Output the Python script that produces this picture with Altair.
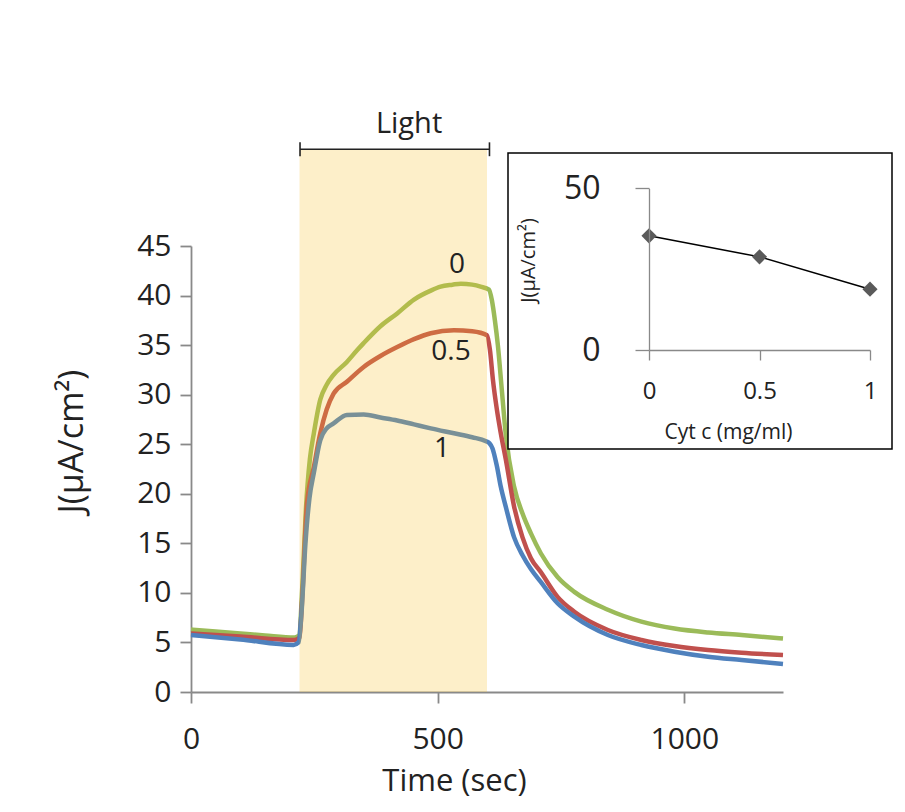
import altair as alt
import pandas as pd

# ---- main curves: time (sec) vs J (uA/cm2), one series per Cyt c concentration ----
t_0 = [0, 50, 100, 150, 210, 219, 226, 233, 241, 249, 262, 275, 289, 316, 337, 350, 384,
       418, 452, 486, 506, 530, 547, 570, 587, 604, 610, 616, 622, 630, 638, 655, 672, 689,
       709, 743, 777, 845, 913, 980, 1048, 1116, 1200]
j_0 = [6.3, 6.1, 5.9, 5.7, 5.5, 5.7, 11.0, 18.5, 23.5, 26.1, 29.5, 31.0, 32.0, 33.3, 34.5,
       35.2, 36.9, 38.2, 39.6, 40.5, 40.9, 41.1, 41.2, 41.1, 40.9, 40.6, 39.5, 37.5, 35.0,
       30.5, 26.0, 20.7, 18.0, 16.0, 14.0, 11.6, 10.1, 8.3, 7.1, 6.4, 6.0, 5.75, 5.4]

t_05 = [0, 100, 210, 220, 226, 235, 249, 262, 275, 289, 316, 350, 384, 418, 452, 486, 533,
        570, 600, 606, 612, 620, 628, 638, 655, 672, 689, 709, 743, 777, 845, 913, 980,
        1048, 1116, 1200]
j_05 = [5.9, 5.6, 5.25, 5.5, 10.0, 19.0, 22.7, 26.1, 28.5, 30.1, 31.3, 32.8, 33.9, 34.8,
        35.6, 36.2, 36.5, 36.4, 36.0, 34.5, 31.5, 28.5, 26.1, 23.5, 18.7, 15.6, 13.5, 12.1,
        9.6, 8.1, 6.26, 5.25, 4.64, 4.24, 3.97, 3.73]

t_1 = [0, 100, 208, 218, 224, 232, 240, 249, 262, 275, 289, 316, 350, 384, 418, 452, 486,
       533, 570, 598, 605, 611, 620, 628, 638, 655, 672, 689, 709, 743, 777, 845, 913, 980,
       1048, 1116, 1200]
j_1 = [5.75, 5.3, 4.75, 5.0, 8.0, 15.0, 19.5, 22.1, 25.4, 26.6, 27.1, 27.95, 28.0, 27.7,
       27.4, 27.0, 26.6, 26.1, 25.7, 25.3, 25.1, 24.6, 22.8, 20.7, 18.7, 15.6, 13.8, 12.4,
       11.1, 8.95, 7.6, 5.75, 4.74, 4.07, 3.56, 3.23, 2.83]

series_names = ["0", "0.5", "1"]
series_colors = ["#9BBB59", "#C0504D", "#4F81BD"]

# curve labels
label_text = ["0", "0.5", "1"]
label_t = [539, 527, 509]
label_j = [43.1, 34.3, 24.5]

# light period
light_start, light_end = 220, 600
light_bar = [221, 605]

# inset: peak J vs Cyt c
cyt = [0, 0.5, 1]
j_peak = [35.3, 28.8, 18.8]

FONT = "Open Sans"
TXT = "#222222"
AX = "#898989"

rows = []
for name, ts, js in [("0", t_0, j_0), ("0.5", t_05, j_05), ("1", t_1, j_1)]:
    for t, j in zip(ts, js):
        rows.append({"s": name, "t": t, "j": j})
df = pd.DataFrame(rows)
lab_df = pd.DataFrame({"label": label_text, "t": label_t, "j": label_j})
cap_df = pd.DataFrame({"t": light_bar})
one = pd.DataFrame({"a": [0]})
inset_df = pd.DataFrame({"c": cyt, "jc": j_peak})

x_main = alt.X(
    "t:Q",
    scale=alt.Scale(domain=[0, 1200], nice=False, zero=False),
    axis=alt.Axis(
        values=[0, 500, 1000], labelExpr="datum.value", title="Time (sec)",
        grid=False, tickSize=11, tickWidth=1.8, tickColor=AX,
        domainColor=AX, domainWidth=1.8,
        labelFont=FONT, labelFontSize=30, labelColor=TXT,
        labelBaseline="alphabetic", labelPadding=45, labelFlush=False,
        titleFont=FONT, titleFontSize=31, titleFontWeight="normal", titleColor=TXT,
        titleX=263, titleY=98, titleBaseline="alphabetic", titleAlign="center",
    ),
)
y_main = alt.Y(
    "j:Q",
    scale=alt.Scale(domain=[0, 45], nice=False),
    axis=alt.Axis(
        values=list(range(0, 50, 5)), labelExpr="datum.value", title="J(μA/cm²)",
        grid=False, tickSize=11, tickWidth=1.8, tickColor=AX,
        domainColor=AX, domainWidth=1.8,
        labelFont=FONT, labelFontSize=30, labelColor=TXT, labelPadding=9,
        titleFont=FONT, titleFontSize=34, titleFontWeight="normal", titleColor=TXT,
        titleAngle=270, titleX=-119, titleY=195, titleAlign="center",
        titleBaseline="middle",
    ),
)

lines = alt.Chart(df).mark_line(strokeWidth=4.5, interpolate="monotone").encode(
    x=x_main,
    y=y_main,
    color=alt.Color("s:N", scale=alt.Scale(domain=series_names, range=series_colors), legend=None),
)

shade = alt.Chart(one).mark_rect(color="#F7BF27", opacity=0.25).encode(
    x=alt.datum(light_start), x2=alt.datum(light_end),
    y=alt.datum(0), y2=alt.datum(54.7),
)

labels = alt.Chart(lab_df).mark_text(font=FONT, fontSize=28, color=TXT).encode(
    x="t:Q", y="j:Q", text="label:N"
)

caps = alt.Chart(cap_df).mark_rule(color="#222222", strokeWidth=1.6).encode(
    x="t:Q", y=alt.datum(54.06), y2=alt.datum(55.46)
)
bar = alt.Chart(one).mark_rule(color="#222222", strokeWidth=1.6).encode(
    x=alt.datum(light_bar[0]), x2=alt.datum(light_bar[1]), y=alt.datum(54.76)
)
light_text = alt.Chart(one).mark_text(
    text="Light", font=FONT, fontSize=29, color=TXT, baseline="alphabetic"
).encode(x=alt.datum(442), y=alt.datum(56.4))

main = alt.layer(lines, shade, labels, caps, bar, light_text)

# ---- inset ----
x_in = alt.X(
    "c:Q",
    scale=alt.Scale(domain=[0, 1], range=[458, 679], nice=False, zero=False),
    axis=alt.Axis(
        orient="bottom", offset=-342, values=cyt, labelExpr="datum.value", zindex=2,
        title="Cyt c (mg/ml)", grid=False, tickSize=10, tickWidth=1.3, tickColor=AX,
        domainColor=AX, domainWidth=1.3,
        labelFont=FONT, labelFontSize=24, labelColor=TXT,
        labelBaseline="alphabetic", labelPadding=38, labelFlush=False,
        titleFont=FONT, titleFontSize=21, titleFontWeight="normal", titleColor=TXT,
        titleX=537, titleY=88, titleBaseline="alphabetic", titleAlign="center",
    ),
)
y_in = alt.Y(
    "jc:Q",
    scale=alt.Scale(domain=[0, 50], range=[104, -57.7], nice=False),
    axis=alt.Axis(
        orient="left", offset=-458, values=[0, 50], labelExpr="datum.value", zindex=2,
        title="J(μA/cm²)", grid=False, tickSize=14, tickWidth=1.3, tickColor=AX,
        domainColor=AX, domainWidth=1.3,
        labelFont=FONT, labelFontSize=32, labelColor=TXT, labelPadding=35,
        titleFont=FONT, titleFontSize=20, titleFontWeight="normal", titleColor=TXT,
        titleAngle=270, titleX=-121, titleY=14, titleAlign="center",
        titleBaseline="middle",
    ),
)

box = alt.Chart(one).mark_rect(fill="white", stroke="black", strokeWidth=1.5).encode(
    x=alt.value(317), x2=alt.value(701), y=alt.value(-93), y2=alt.value(203)
)
inset_line = alt.Chart(inset_df).mark_line(color="black", strokeWidth=1.5).encode(
    x=x_in, y=y_in
)
inset_pts = alt.Chart(inset_df).mark_point(
    shape="diamond", filled=True, size=230, color="#5A5A5A", opacity=1
).encode(x="c:Q", y="jc:Q")

inset = alt.layer(box, inset_line, inset_pts)

chart = (
    alt.layer(main, inset)
    .resolve_scale(x="independent", y="independent")
    .properties(
        width=592, height=446,
        padding={"left": 183, "top": 238, "right": 110, "bottom": 110},
        autosize=alt.AutoSizeParams(type="none"),
        background="white",
    )
    .configure_view(stroke=None)
)

chart.save("out.html", embed_options={"renderer": "svg", "actions": False})
